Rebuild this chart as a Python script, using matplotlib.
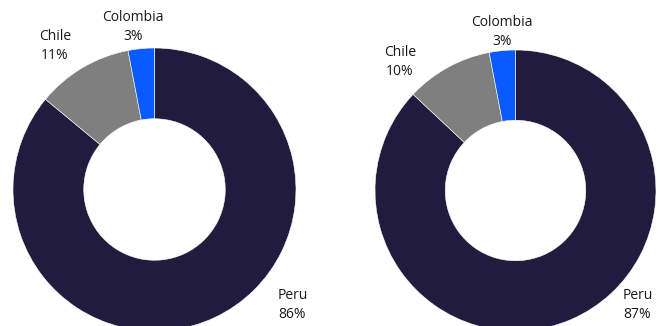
import matplotlib.pyplot as plt

# Share of each country, two periods
countries = ['Peru', 'Chile', 'Colombia']
share_left = [86, 11, 3]
share_right = [87, 10, 3]

colors = ['#211c3d', '#7f7f7f', '#0a5bff']

plt.rcParams['font.family'] = ['Open Sans', 'DejaVu Sans']

W, H = 667, 326
fig = plt.figure(figsize=(W / 100, H / 100), dpi=100)
ax = fig.add_axes([0, 0, 1, 1])


def donut(shares, cx, cy, r, label_pos):
    ax.pie(shares, colors=colors, startangle=90, counterclock=False,
           center=(cx, H - cy), radius=r, frame=True,
           wedgeprops=dict(width=r * 0.5, edgecolor='white', linewidth=0.4))
    for name, val, (lx, ly, ha) in zip(countries, shares, label_pos):
        ax.text(lx, H - ly, f'{name}\n{val}%', ha=ha, va='center',
                fontsize=10, color='#1a1a1a', linespacing=1.4,
                multialignment='center' if ha == 'center' else 'left')


donut(share_left, 154.5, 189.5, 141.5,
      [(278, 305, 'left'), (55, 46, 'center'), (133, 27, 'center')])
donut(share_right, 515.5, 190.5, 140.5,
      [(623, 305, 'left'), (400, 62, 'center'), (502, 32, 'center')])

ax.set_xlim(0, W)
ax.set_ylim(0, H)
ax.set_aspect('equal')
ax.axis('off')

fig.savefig('out.png', dpi=100)
